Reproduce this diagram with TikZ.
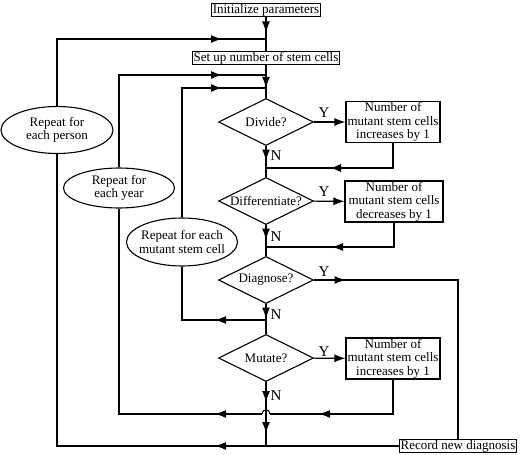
\documentclass[tikz,border=0pt]{standalone}
\usepackage{fontspec}
\setmainfont{Liberation Serif}
\usetikzlibrary{shapes.geometric,arrows.meta,decorations.markings}
\def\mainx{266}
\def\loopback{44pt}
\newcommand{\nowidth}[1]{\makebox[0pt]{#1}}

\begin{document}
\begin{tikzpicture}[x=1pt,y=-1pt,line width=1.1pt,font=\fontsize{13}{13.5}\selectfont,
    arrowat/.style={postaction={decorate},decoration={markings,
        mark=at position #1 with {\arrow{Latex[length=11pt,width=8pt]}}}}]
            \tikzstyle{stepbox}=[draw,rectangle,inner xsep=1pt,inner ysep=0.5pt]
            \tikzstyle{countbox}=[draw,rectangle,align=center,inner sep=0pt,minimum width=94pt,minimum height=41pt]
            \tikzstyle{decision}=[draw,diamond,inner sep=0pt,minimum width=95pt,minimum height=47pt]
            \tikzstyle{loopnode}=[draw,ellipse,align=center,inner sep=0pt,minimum width=111pt]
            \tikzstyle{answer}=[inner sep=0pt,font=\fontsize{15}{15}\selectfont]

            \useasboundingbox (0,0) rectangle (520,455);

            % Steps down the middle
            \node[stepbox] (init) at (\mainx,10) {Initialize parameters};
            \node[stepbox] (setup) at (\mainx,58) {Set up number of stem cells};
            \node[decision] (divide) at (\mainx,122) {\nowidth{Divide?}};
            \node[decision] (differentiate) at (\mainx,201) {\nowidth{Differentiate?}};
            \node[decision] (diagnose) at (\mainx,280) {\nowidth{Diagnose?}};
            \node[decision] (mutate) at (\mainx,358) {\nowidth{Mutate?}};
            \node[stepbox] (record) at (458,446) {Record new diagnosis};

            % Count boxes on the right
            \node[countbox] (inc1) at (393,122) {Number of\\mutant stem cells\\increases by 1};
            \node[countbox, minimum width=98pt] (dec) at (394,201.5) {Number of\\mutant stem cells\\decreases by 1};
            \node[countbox] (inc2) at (393,358.5) {Number of\\mutant stem cells\\increases by 1};

            % Loops on the left
            \node[loopnode, minimum width=112pt, minimum height=47pt] (person) at (57,130)
                {\nowidth{Repeat for}\\\nowidth{each person}};
            \node[loopnode, minimum height=40pt] (year) at (119,188)
                {\nowidth{Repeat for}\\\nowidth{each year}};
            \node[loopnode, minimum height=48pt] (cell) at (182,242)
                {\nowidth{Repeat for each}\\\nowidth{mutant stem cell}};

            % Points where lines meet the middle line
            \coordinate (personin) at (\mainx,39);
            \coordinate (yearin) at (\mainx,75);
            \coordinate (cellin) at (\mainx,88);
            \coordinate (ret1) at (\mainx,168);
            \coordinate (ret2) at (\mainx,247);
            \coordinate (cellout) at (\mainx,320);
            \coordinate (hop) at (\mainx,414);
            \coordinate (hopR) at (\mainx+4,414);
            \coordinate (hopL) at (\mainx-4,414);
            \coordinate (bottom) at (\mainx,446);

            % Y and N labels
            \foreach \name / \y in {divide/113,differentiate/192,diagnose/272,mutate/352}
                \node[answer] (Y-\name) at (324,\y) {Y};
            \foreach \name / \y in {divide/156,differentiate/237,diagnose/315,mutate/396}
                \node[answer] (N-\name) at (276,\y) {N};

            \draw[arrowat=15.5pt] (init) -- (setup);
            \draw[arrowat=-10pt] (setup) -- (divide);
            \foreach \source / \dest in {divide/differentiate,differentiate/diagnose,diagnose/mutate}
                \draw[arrowat=14.5pt] (\source) -- (\dest);
            \foreach \source / \dest in {divide/inc1,differentiate/dec,mutate/inc2}
                \draw[-{Latex[length=11pt,width=8pt]}] (\source) -- (\dest);

            % Back into the middle line
            \draw[arrowat=-64pt] (inc1) |- (ret1);
            \draw[arrowat=-66pt] (dec) |- (ret2);
            \draw[arrowat=31.5pt] (diagnose) -| (record);

            % Repeat loops
            \draw[arrowat=-\loopback] (person) |- (personin);
            \draw[arrowat=-\loopback] (year) |- (yearin);
            \draw[arrowat=-\loopback] (cell) |- (cellin);
            \draw[arrowat=51pt] (cellout) -| (cell);

            \draw[arrowat=20pt] (mutate) -- (hop);
            \draw[arrowat=-13pt] (hop) -- (bottom);
            \draw[arrowat=-49pt] (inc2) |- (hopR);
            \draw (hopR) .. controls +(0,-5.5) and +(0,-5.5) .. (hopL);
            \draw[arrowat=47pt] (hopL) -| (year);
            \draw (record) -- (bottom);
            \draw[arrowat=51pt] (bottom) -| (person);
\end{tikzpicture}
\end{document}
